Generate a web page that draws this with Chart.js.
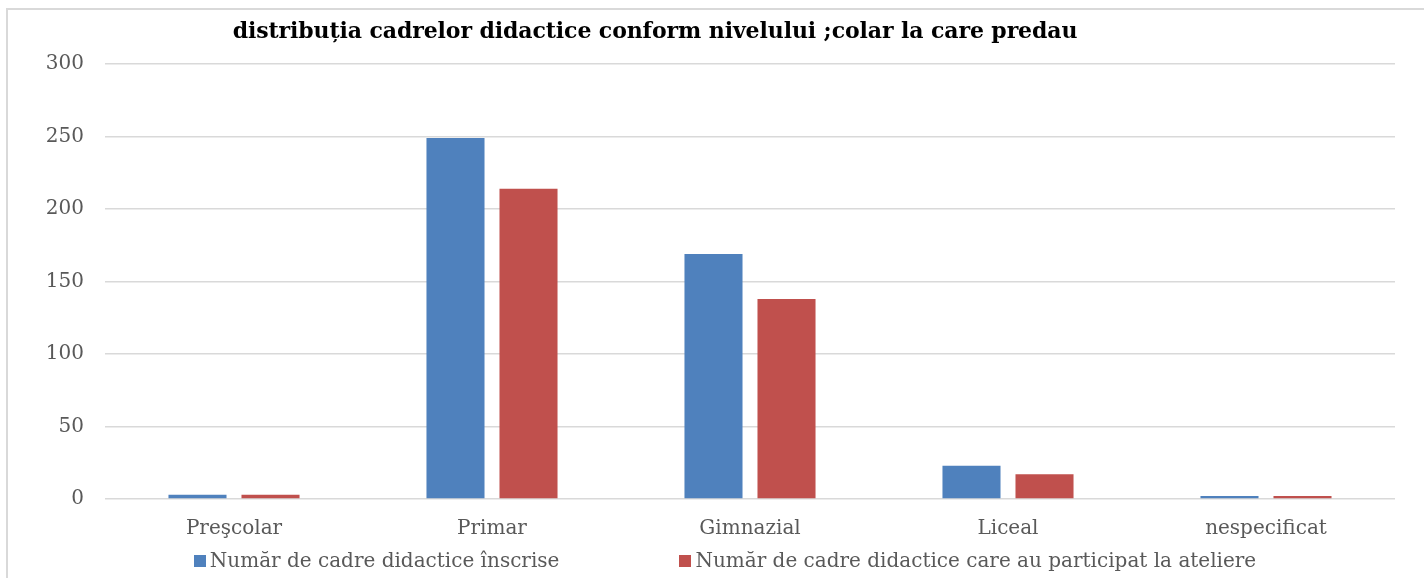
<!DOCTYPE html>
<html>
<head>
<meta charset="utf-8">
<script src="https://cdn.jsdelivr.net/npm/chart.js@4/dist/chart.umd.min.js"></script>
<style>
  body { margin: 0; background: #fff; overflow: hidden; }
  .frame { position: absolute; left: 6px; top: 8px; width: 1430px; height: 580px; border-left: 2px solid #d9d9d9; border-top: 2px solid #d9d9d9; }
  .titlu { position: absolute; left: 0; width: 1294px; top: 7px; text-align: center; font: bold 22px "DejaVu Serif", serif; color: #000; letter-spacing: -0.1px; }
  .legenda { position: absolute; left: 5px; width: 1424px; top: 538px; text-align: center; font: 20px "DejaVu Serif", serif; color: #595959; white-space: nowrap; }
  .legenda span { display: inline-block; margin: 0 60px; }
  .legenda i { display: inline-block; width: 12px; height: 12px; margin-right: 4px; vertical-align: 0px; }
  canvas { position: absolute; left: 0; top: 0; }
</style>
</head>
<body>
<div class="frame">
  <canvas id="myChart" width="1416" height="570"></canvas>
  <div class="titlu">distribuția cadrelor didactice conform nivelului ;colar la care predau</div>
  <div class="legenda"></div>
</div>
<script>
var categorii = ["Preşcolar", "Primar", "Gimnazial", "Liceal", "nespecificat"];
var inscrise = [3, 249, 169, 23, 2];
var participanti = [3, 214, 138, 17, 2];
var ticksY = [0, 50, 100, 150, 200, 250, 300];

var font = "'DejaVu Serif', serif";

var ctx = document.getElementById("myChart");
var myChart = new Chart(ctx, {
  type: 'bar',
  data: {
    labels: categorii,
    datasets: [{
      label: 'Număr de cadre didactice înscrise',
      data: inscrise,
      backgroundColor: '#4f81bd',
      categoryPercentage: 0.566,
      barPercentage: 0.795
    }, {
      label: 'Număr de cadre didactice care au participat la ateliere',
      data: participanti,
      backgroundColor: '#c0504d',
      categoryPercentage: 0.566,
      barPercentage: 0.795
    }]
  },
  options: {
    responsive: false,
    animation: false,
    layout: { padding: { top: 54, right: 29, bottom: 29, left: 0 } },
    plugins: {
      title: { display: false },
      tooltip: { enabled: false },
      legend: { display: false }
    },
    scales: {
      x: {
        grid: { display: false },
        border: { display: false },
        ticks: { color: '#595959', font: { family: font, size: 20 }, padding: 10 }
      },
      y: {
        min: 0, max: 300,
        afterBuildTicks: function(scale) {
          scale.ticks = ticksY.map(function(v) { return { value: v }; });
        },
        afterFit: function(scale) { scale.width = 97; },
        grid: { color: '#d9d9d9', lineWidth: 1.5, drawTicks: false },
        border: { display: false },
        ticks: { color: '#595959', font: { family: font, size: 20 }, padding: 21 }
      }
    }
  }
});

// legenda
$leg = document.querySelector('.legenda');
myChart.data.datasets.forEach(function(ds) {
  var s = document.createElement('span');
  s.innerHTML = "<i style='background:" + ds.backgroundColor + "'></i>" + ds.label;
  $leg.appendChild(s);
});
</script>
</body>
</html>
